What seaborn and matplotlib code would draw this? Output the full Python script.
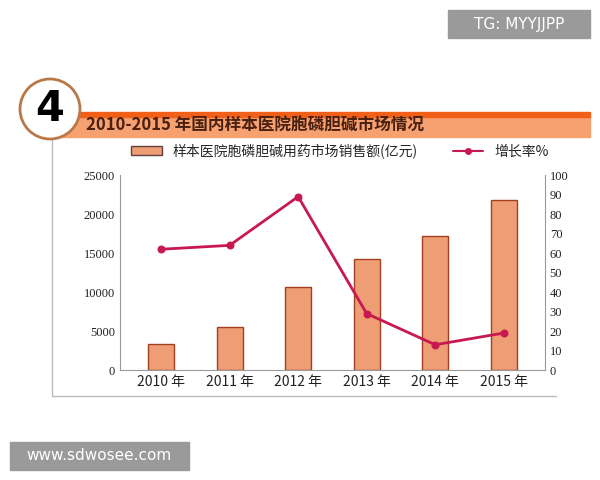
import matplotlib
matplotlib.use("Agg")
import matplotlib.pyplot as plt
import seaborn as sns
import pandas as pd
from matplotlib.patches import Rectangle, Ellipse
from matplotlib.lines import Line2D

years = ["2010 年", "2011 年", "2012 年", "2013 年", "2014 年", "2015 年"]
sales = [3300, 5500, 10600, 14200, 17200, 21800]
growth = [62, 64, 89, 29, 13, 19]
title = "2010-2015 年国内样本医院胞磷胆碱市场情况"
bar_label = "样本医院胞磷胆碱用药市场销售额(亿元)"
line_label = "增长率%"

sns.set_style("white")
plt.rcParams['font.family'] = ['Noto Sans CJK SC', 'DejaVu Sans']

fig = plt.figure(figsize=(6, 4.8), dpi=100)
W, H = 600, 480
def fx(x): return x / W
def fy(y): return 1 - y / H

# outer frame
fig.add_artist(Line2D([fx(52), fx(52)], [fy(140), fy(396)], color="#bbbbbb", lw=1))
fig.add_artist(Line2D([fx(52), fx(556)], [fy(396), fy(396)], color="#bbbbbb", lw=1))

# title band
fig.add_artist(Rectangle((fx(60), fy(137)), fx(530), fy(117) - fy(137), color="#f7a070", zorder=1))
fig.add_artist(Rectangle((fx(60), fy(117)), fx(530), fy(112) - fy(117), color="#f06018", zorder=1))
fig.text(fx(86), fy(126), title, fontsize=12, fontweight="bold", color="#4a2010", va="center",
         ha="left", zorder=3)
fig.add_artist(Ellipse((fx(50), fy(109)), fx(60), fy(80) - fy(140), transform=fig.transFigure,
                       facecolor="white", edgecolor="#b87848", lw=2, zorder=4))
fig.text(fx(50), fy(109), "4", fontsize=30, fontweight="bold", color="black", ha="center", va="center",
         family="DejaVu Sans", zorder=5)

ax = fig.add_axes([0.2, 0.229, 0.708, 0.406])
df = pd.DataFrame({"year": years, "sales": sales, "growth": growth})
sns.barplot(data=df, x="year", y="sales", ax=ax, color="#ef9d74", edgecolor="#a04020",
            linewidth=1, width=0.38, saturation=1)
ax.set_ylim(0, 25000)
ax.set_yticks(range(0, 25001, 5000))
ax.set_xlabel(""); ax.set_ylabel("")
ax2 = ax.twinx()
sns.lineplot(x=list(range(len(years))), y=growth, ax=ax2, color="#c81850", lw=2,
             marker="o", markersize=5, markeredgecolor="#c81850")
ax2.set_ylim(0, 100)
ax2.set_yticks(range(0, 101, 10))
ax.set_xlim(-0.6, 5.6)
for a in (ax, ax2):
    for s in a.spines.values():
        s.set_visible(False)
    a.tick_params(labelsize=9, colors="#222222", length=0)
ax.spines["left"].set_visible(True); ax.spines["left"].set_color("#999999")
ax2.spines["right"].set_visible(True); ax2.spines["right"].set_color("#999999")
ax.spines["bottom"].set_visible(True); ax.spines["bottom"].set_color("#999999")
for t in ax.get_yticklabels() + ax2.get_yticklabels():
    t.set_family(["Liberation Serif"])
ax.tick_params(axis="x", labelsize=10)

handles = [Rectangle((0, 0), 1, 1, facecolor="#ef9d74", edgecolor="#604040"),
           Line2D([], [], color="#c81850", marker="o", markersize=4, lw=1.5)]
fig.legend(handles, [bar_label, line_label], loc="center", bbox_to_anchor=(fx(340), fy(151)),
           ncol=2, frameon=False, fontsize=10, columnspacing=2.5, handlelength=2.2)

# watermarks
fig.add_artist(Rectangle((fx(448), fy(38)), fx(142), fy(10) - fy(38), color="#9a9a9a", zorder=1))
fig.text(fx(519), fy(24), "TG: MYYJJPP", color="white", fontsize=11, ha="center", va="center",
         family="DejaVu Sans")
fig.add_artist(Rectangle((fx(10), fy(470)), fx(179), fy(442) - fy(470), color="#9a9a9a", zorder=1))
fig.text(fx(99), fy(456), "www.sdwosee.com", color="white", fontsize=11, ha="center", va="center",
         family="DejaVu Sans")

fig.savefig("out.png", dpi=100)
